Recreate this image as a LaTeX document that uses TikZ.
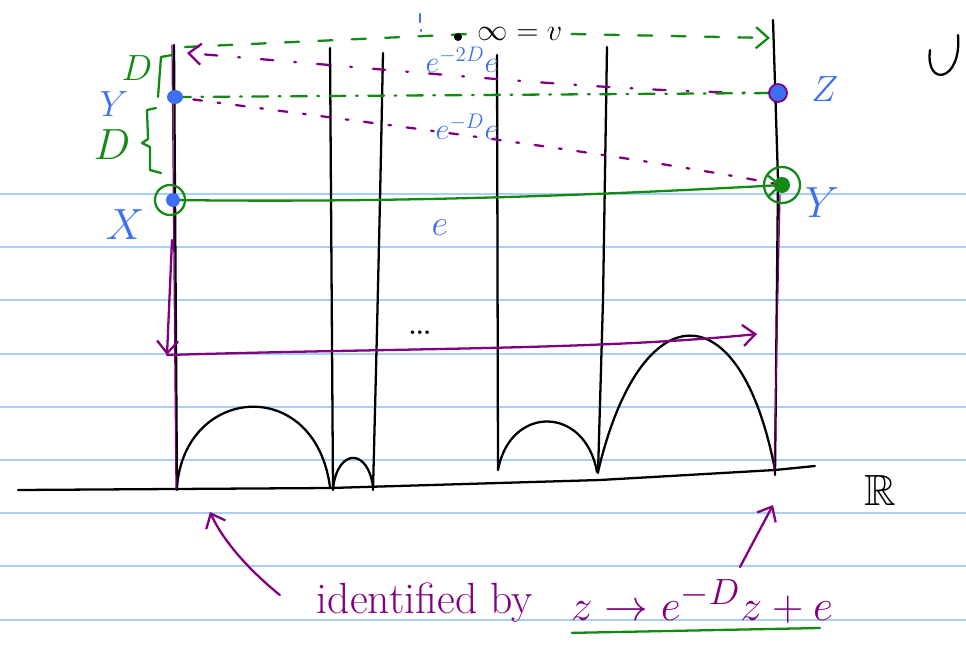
\documentclass[tikz,border=0pt]{standalone}
\usepackage{amsmath,amssymb}
\usepackage{tikz}
\usetikzlibrary{arrows.meta}
\definecolor{pPurple}{HTML}{800080}
\definecolor{pGreen}{HTML}{138A13}
\definecolor{pBlue}{HTML}{3D6FF0}
\definecolor{pRule}{HTML}{A8CFF5}
\tikzset{
  ink/.style={line width=1.3pt},
  lbl/.style={inner sep=1pt, font=\Huge},
  mdl/.style={inner sep=1pt, font=\huge},
  sml/.style={inner sep=1pt, font=\LARGE},
  gdash/.style={pGreen, line width=1.3pt, dash pattern=on 8pt off 11pt},
  pdash/.style={pPurple, line width=1.3pt, dash pattern=on 7pt off 12pt on 1pt off 12pt},
  pdot/.style={pPurple, line width=1.3pt, dash pattern=on 1.5pt off 9pt on 5pt off 9pt}
}

\begin{document}
\begin{tikzpicture}[x=0.02cm, y=-0.02cm, >={Straight Barb[length=7pt,width=12pt]},
    line cap=round, line join=round]
  \useasboundingbox (0,0) rectangle (966,652);
  % ruled paper
  \foreach \ry in {194,247,300,354,407,460,513,566,620}
    \draw[pRule, line width=1.1pt] (0,\ry) -- (966,\ry);

  % points on the two outer lines
  \coordinate (Yl) at (175,97);
  \coordinate (Xl) at (173,200);
  \coordinate (Zr) at (778,93);
  \coordinate (Yr) at (782,185);
  \coordinate (topL) at (185,47);
  \coordinate (topR) at (770,38);
  \coordinate (topP) at (187,53);
  \coordinate (downS) at (172,240);
  \coordinate (downE) at (167,355);
  \coordinate (horE) at (757,334);

  % real line and geodesics
  \draw[ink] (18,490) -- (330,488) -- (600,480) -- (775,470) -- (815,466);
  \draw[ink] (174,45) -- (177,490);
  \draw[ink] (330,48) -- (333,490);
  \draw[ink] (383,53) -- (380,200) -- (377,330) -- (373,490);
  \draw[ink] (497,55) -- (498,470);
  \draw[ink] (607,47) -- (603,300) -- (598,473);
  \draw[ink] (773,20) -- (778,180) -- (775,475);
  \draw[ink] (177,487) .. controls (185,385) and (315,375) .. (330,487);
  \draw[ink] (333,488) .. controls (338,448) and (368,448) .. (373,487);
  \draw[ink] (498,470) .. controls (510,405) and (585,405) .. (597,472);
  \draw[ink] (598,472) .. controls (640,293) and (740,288) .. (775,470);
  \draw[ink] (930,50) .. controls (925,88) and (962,82) .. (958,35);

  % purple guide lines along the outer geodesics
  \draw[pPurple, line width=0.7pt] (172,45) -- (176,490);
  \draw[pPurple, line width=0.7pt] (780,195) -- (774,470);

  % labels
  \node[mdl, text=pBlue] (labYl) at (114,104) {$Y$};
  \node[lbl, text=pBlue] (labX) at (125,225) {$X$};
  \node[mdl, text=pBlue] (labZ) at (825,89) {$Z$};
  \node[lbl, text=pBlue] (labYr) at (822,203) {$Y$};
  \node[mdl, text=pGreen] (labDa) at (137,68) {$D$};
  \node[lbl, text=pGreen] (labDb) at (112,145) {$D$};
  \node[mdl, text=pBlue] (labE) at (440,228) {$e$};
  \node[sml, text=pBlue] (labEtwo) at (462,60) {$e^{-2D}e$};
  \node[sml, text=pBlue] (labEone) at (467,127) {$e^{-D}e$};
  \node[sml, inner sep=5pt] (inf) at (520,34) {$\infty = v$};
  \node[lbl] (reals) at (880,490) {$\mathbb{R}$};
  \node[lbl] (more) at (420,333) {\dots};
  \node[lbl, text=pPurple] (ident) at (425,603) {identified by};
  \node[lbl, text=pPurple] (map) at (702,601) {$z \to e^{-D}z+e$};

  % brackets for D
  \draw[pGreen, ink] (172,55) -- (161,57) -- (158,97);
  \draw[pGreen, ink] (156,108) -- (147,110) -- (148,139) -- (142,143) -- (150,147) -- (150,170) -- (161,173);

  % dashed orbits
  \draw[gdash, ->] (inf.east) -- (topR);
  \draw[gdash] (topL) -- (inf.west);
  \fill (458,37) circle (4);
  \draw[pBlue, line width=1.3pt] (420,14) -- (420,22) (421,30) -- (421,31);
  \draw[pdash, ->] (Zr) .. controls (620,93) and (420,72) .. (topP);
  \draw[gdash, dash pattern=on 9pt off 6pt on 1pt off 6pt] (Yl) -- (Zr);
  \draw[pdot] (Yl) .. controls (330,118) and (600,150) .. (Yr);

  % fundamental domain edge
  \draw[pGreen, ink, ->] (Xl) .. controls (400,203) and (600,195) .. (Yr);

  % marked points
  \draw[pGreen, ink] (Xl) ++(-3,0) circle (15);
  \draw[pGreen, ink] (Yr) circle (18);
  \fill[pBlue] (Xl) circle (7);
  \fill[pBlue] (Yl) ellipse (8 and 7);
  \filldraw[pBlue, draw=pPurple, line width=1pt] (Zr) circle (9);
  \fill[pGreen] (Yr) circle (8);

  % purple moves
  \draw[pPurple, ink, ->] (downS) -- (downE);
  \draw[pPurple, ink, ->] (downE) .. controls (400,348) and (600,350) .. (horE);

  % identification
  \draw[pPurple, ink, ->] (ident.west) ++(-35,-8) .. controls (255,575) and (225,545) .. (210,512);
  \draw[pPurple, ink, ->] (740,567) -- (773,505);
  \draw[pGreen, ink] (map.south west) ++(3,8) -- (820,628);
\end{tikzpicture}
\end{document}
